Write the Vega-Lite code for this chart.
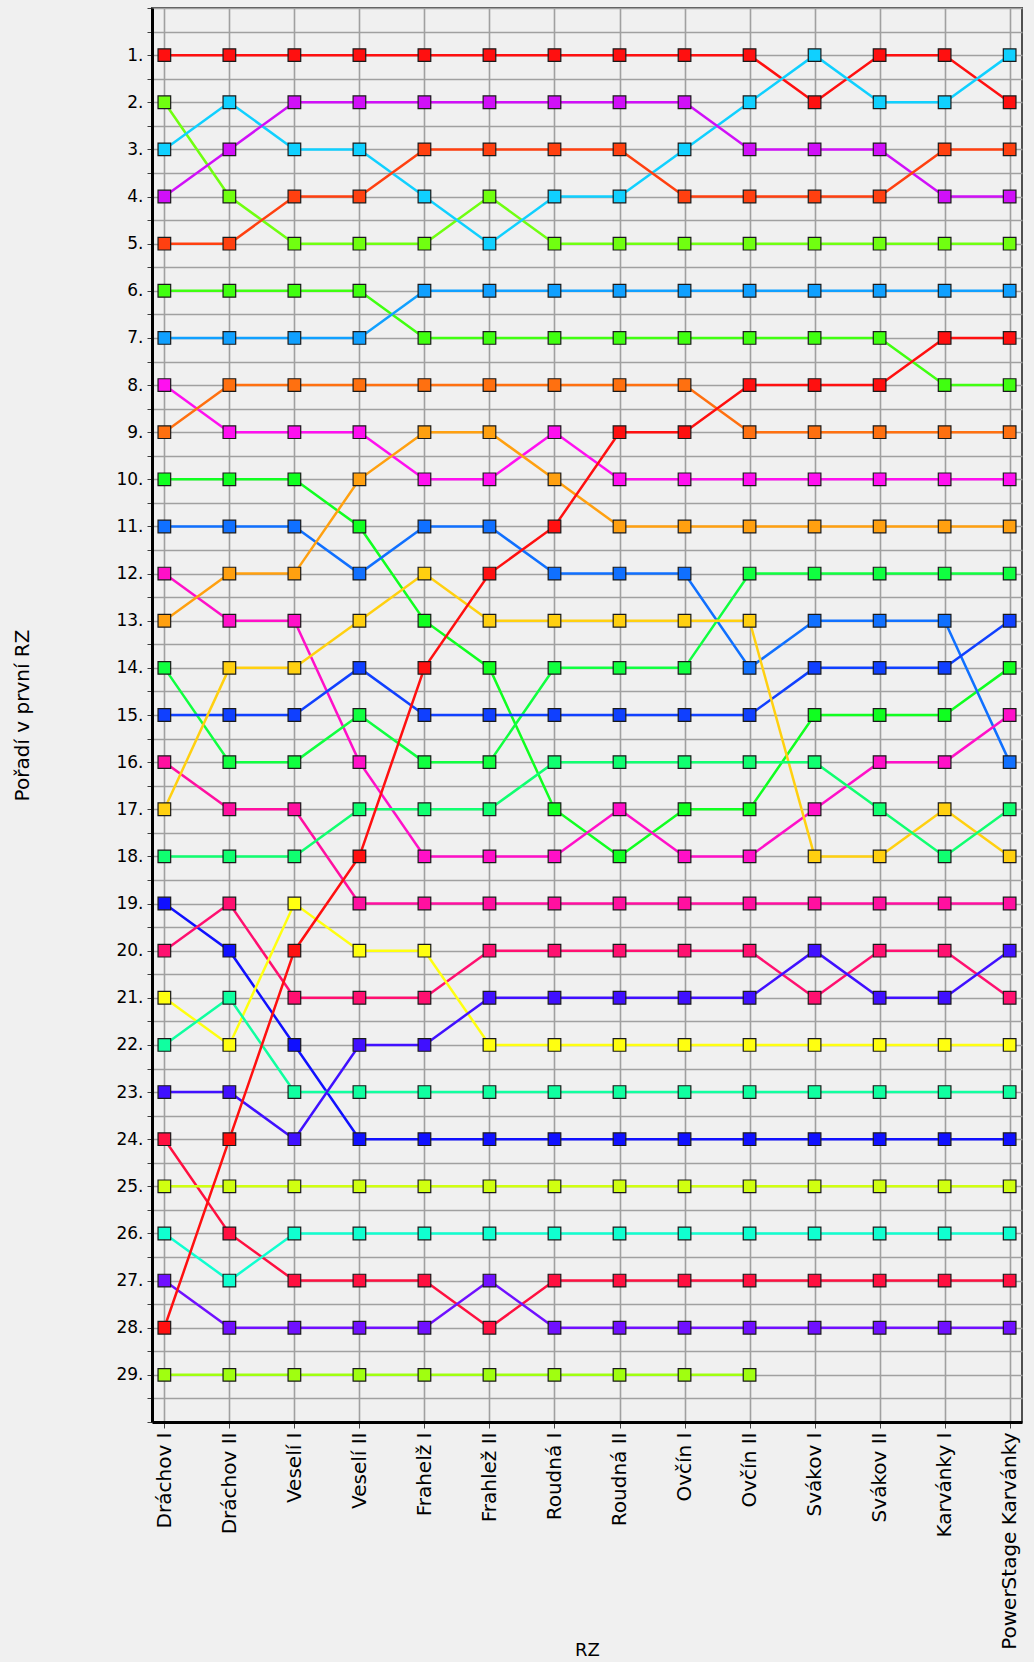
{
  "$schema": "https://vega.github.io/schema/vega-lite/v6.json",
  "width": 870,
  "height": 1414,
  "autosize": "none",
  "padding": {"left": 152, "top": 8, "right": 12, "bottom": 240},
  "background": "#f0f0f0",
  "config": {
    "view": {"stroke": "#505050", "strokeWidth": 2, "fill": "#f0f0f0"},
    "axis": {
      "gridColor": "#a0a0a0", "gridWidth": 1.6, "gridOpacity": 1,
      "domainColor": "#000000", "domainWidth": 3,
      "tickColor": "#404040", "labelColor": "#000000", "titleColor": "#000000",
      "labelFont": "DejaVu Sans", "titleFont": "DejaVu Sans", "titleFontWeight": "normal"
    }
  },
  "data": {
    "values": [
      {"j":"1","Dráchov I":1,"Dráchov II":1,"Veselí I":1,"Veselí II":1,"Frahelž I":1,"Frahlež II":1,"Roudná I":1,"Roudná II":1,"Ovčín I":1,"Ovčín II":1,"Svákov I":2,"Svákov II":1,"Karvánky I":1,"PowerStage Karvánky":2},
      {"j":"2","Dráchov I":2,"Dráchov II":4,"Veselí I":5,"Veselí II":5,"Frahelž I":5,"Frahlež II":4,"Roudná I":5,"Roudná II":5,"Ovčín I":5,"Ovčín II":5,"Svákov I":5,"Svákov II":5,"Karvánky I":5,"PowerStage Karvánky":5},
      {"j":"3","Dráchov I":3,"Dráchov II":2,"Veselí I":3,"Veselí II":3,"Frahelž I":4,"Frahlež II":5,"Roudná I":4,"Roudná II":4,"Ovčín I":3,"Ovčín II":2,"Svákov I":1,"Svákov II":2,"Karvánky I":2,"PowerStage Karvánky":1},
      {"j":"4","Dráchov I":4,"Dráchov II":3,"Veselí I":2,"Veselí II":2,"Frahelž I":2,"Frahlež II":2,"Roudná I":2,"Roudná II":2,"Ovčín I":2,"Ovčín II":3,"Svákov I":3,"Svákov II":3,"Karvánky I":4,"PowerStage Karvánky":4},
      {"j":"5","Dráchov I":5,"Dráchov II":5,"Veselí I":4,"Veselí II":4,"Frahelž I":3,"Frahlež II":3,"Roudná I":3,"Roudná II":3,"Ovčín I":4,"Ovčín II":4,"Svákov I":4,"Svákov II":4,"Karvánky I":3,"PowerStage Karvánky":3},
      {"j":"6","Dráchov I":6,"Dráchov II":6,"Veselí I":6,"Veselí II":6,"Frahelž I":7,"Frahlež II":7,"Roudná I":7,"Roudná II":7,"Ovčín I":7,"Ovčín II":7,"Svákov I":7,"Svákov II":7,"Karvánky I":8,"PowerStage Karvánky":8},
      {"j":"7","Dráchov I":7,"Dráchov II":7,"Veselí I":7,"Veselí II":7,"Frahelž I":6,"Frahlež II":6,"Roudná I":6,"Roudná II":6,"Ovčín I":6,"Ovčín II":6,"Svákov I":6,"Svákov II":6,"Karvánky I":6,"PowerStage Karvánky":6},
      {"j":"8","Dráchov I":8,"Dráchov II":9,"Veselí I":9,"Veselí II":9,"Frahelž I":10,"Frahlež II":10,"Roudná I":9,"Roudná II":10,"Ovčín I":10,"Ovčín II":10,"Svákov I":10,"Svákov II":10,"Karvánky I":10,"PowerStage Karvánky":10},
      {"j":"9","Dráchov I":9,"Dráchov II":8,"Veselí I":8,"Veselí II":8,"Frahelž I":8,"Frahlež II":8,"Roudná I":8,"Roudná II":8,"Ovčín I":8,"Ovčín II":9,"Svákov I":9,"Svákov II":9,"Karvánky I":9,"PowerStage Karvánky":9},
      {"j":"10","Dráchov I":10,"Dráchov II":10,"Veselí I":10,"Veselí II":11,"Frahelž I":13,"Frahlež II":14,"Roudná I":17,"Roudná II":18,"Ovčín I":17,"Ovčín II":17,"Svákov I":15,"Svákov II":15,"Karvánky I":15,"PowerStage Karvánky":14},
      {"j":"11","Dráchov I":11,"Dráchov II":11,"Veselí I":11,"Veselí II":12,"Frahelž I":11,"Frahlež II":11,"Roudná I":12,"Roudná II":12,"Ovčín I":12,"Ovčín II":14,"Svákov I":13,"Svákov II":13,"Karvánky I":13,"PowerStage Karvánky":16},
      {"j":"12","Dráchov I":12,"Dráchov II":13,"Veselí I":13,"Veselí II":16,"Frahelž I":18,"Frahlež II":18,"Roudná I":18,"Roudná II":17,"Ovčín I":18,"Ovčín II":18,"Svákov I":17,"Svákov II":16,"Karvánky I":16,"PowerStage Karvánky":15},
      {"j":"13","Dráchov I":13,"Dráchov II":12,"Veselí I":12,"Veselí II":10,"Frahelž I":9,"Frahlež II":9,"Roudná I":10,"Roudná II":11,"Ovčín I":11,"Ovčín II":11,"Svákov I":11,"Svákov II":11,"Karvánky I":11,"PowerStage Karvánky":11},
      {"j":"14","Dráchov I":14,"Dráchov II":16,"Veselí I":16,"Veselí II":15,"Frahelž I":16,"Frahlež II":16,"Roudná I":14,"Roudná II":14,"Ovčín I":14,"Ovčín II":12,"Svákov I":12,"Svákov II":12,"Karvánky I":12,"PowerStage Karvánky":12},
      {"j":"15","Dráchov I":15,"Dráchov II":15,"Veselí I":15,"Veselí II":14,"Frahelž I":15,"Frahlež II":15,"Roudná I":15,"Roudná II":15,"Ovčín I":15,"Ovčín II":15,"Svákov I":14,"Svákov II":14,"Karvánky I":14,"PowerStage Karvánky":13},
      {"j":"16","Dráchov I":16,"Dráchov II":17,"Veselí I":17,"Veselí II":19,"Frahelž I":19,"Frahlež II":19,"Roudná I":19,"Roudná II":19,"Ovčín I":19,"Ovčín II":19,"Svákov I":19,"Svákov II":19,"Karvánky I":19,"PowerStage Karvánky":19},
      {"j":"17","Dráchov I":17,"Dráchov II":14,"Veselí I":14,"Veselí II":13,"Frahelž I":12,"Frahlež II":13,"Roudná I":13,"Roudná II":13,"Ovčín I":13,"Ovčín II":13,"Svákov I":18,"Svákov II":18,"Karvánky I":17,"PowerStage Karvánky":18},
      {"j":"18","Dráchov I":18,"Dráchov II":18,"Veselí I":18,"Veselí II":17,"Frahelž I":17,"Frahlež II":17,"Roudná I":16,"Roudná II":16,"Ovčín I":16,"Ovčín II":16,"Svákov I":16,"Svákov II":17,"Karvánky I":18,"PowerStage Karvánky":17},
      {"j":"19","Dráchov I":19,"Dráchov II":20,"Veselí I":22,"Veselí II":24,"Frahelž I":24,"Frahlež II":24,"Roudná I":24,"Roudná II":24,"Ovčín I":24,"Ovčín II":24,"Svákov I":24,"Svákov II":24,"Karvánky I":24,"PowerStage Karvánky":24},
      {"j":"20","Dráchov I":20,"Dráchov II":19,"Veselí I":21,"Veselí II":21,"Frahelž I":21,"Frahlež II":20,"Roudná I":20,"Roudná II":20,"Ovčín I":20,"Ovčín II":20,"Svákov I":21,"Svákov II":20,"Karvánky I":20,"PowerStage Karvánky":21},
      {"j":"21","Dráchov I":21,"Dráchov II":22,"Veselí I":19,"Veselí II":20,"Frahelž I":20,"Frahlež II":22,"Roudná I":22,"Roudná II":22,"Ovčín I":22,"Ovčín II":22,"Svákov I":22,"Svákov II":22,"Karvánky I":22,"PowerStage Karvánky":22},
      {"j":"22","Dráchov I":22,"Dráchov II":21,"Veselí I":23,"Veselí II":23,"Frahelž I":23,"Frahlež II":23,"Roudná I":23,"Roudná II":23,"Ovčín I":23,"Ovčín II":23,"Svákov I":23,"Svákov II":23,"Karvánky I":23,"PowerStage Karvánky":23},
      {"j":"23","Dráchov I":23,"Dráchov II":23,"Veselí I":24,"Veselí II":22,"Frahelž I":22,"Frahlež II":21,"Roudná I":21,"Roudná II":21,"Ovčín I":21,"Ovčín II":21,"Svákov I":20,"Svákov II":21,"Karvánky I":21,"PowerStage Karvánky":20},
      {"j":"24","Dráchov I":24,"Dráchov II":26,"Veselí I":27,"Veselí II":27,"Frahelž I":27,"Frahlež II":28,"Roudná I":27,"Roudná II":27,"Ovčín I":27,"Ovčín II":27,"Svákov I":27,"Svákov II":27,"Karvánky I":27,"PowerStage Karvánky":27},
      {"j":"25","Dráchov I":25,"Dráchov II":25,"Veselí I":25,"Veselí II":25,"Frahelž I":25,"Frahlež II":25,"Roudná I":25,"Roudná II":25,"Ovčín I":25,"Ovčín II":25,"Svákov I":25,"Svákov II":25,"Karvánky I":25,"PowerStage Karvánky":25},
      {"j":"26","Dráchov I":26,"Dráchov II":27,"Veselí I":26,"Veselí II":26,"Frahelž I":26,"Frahlež II":26,"Roudná I":26,"Roudná II":26,"Ovčín I":26,"Ovčín II":26,"Svákov I":26,"Svákov II":26,"Karvánky I":26,"PowerStage Karvánky":26},
      {"j":"27","Dráchov I":27,"Dráchov II":28,"Veselí I":28,"Veselí II":28,"Frahelž I":28,"Frahlež II":27,"Roudná I":28,"Roudná II":28,"Ovčín I":28,"Ovčín II":28,"Svákov I":28,"Svákov II":28,"Karvánky I":28,"PowerStage Karvánky":28},
      {"j":"28","Dráchov I":28,"Dráchov II":24,"Veselí I":20,"Veselí II":18,"Frahelž I":14,"Frahlež II":12,"Roudná I":11,"Roudná II":9,"Ovčín I":9,"Ovčín II":8,"Svákov I":8,"Svákov II":8,"Karvánky I":7,"PowerStage Karvánky":7},
      {"j":"29","Dráchov I":29,"Dráchov II":29,"Veselí I":29,"Veselí II":29,"Frahelž I":29,"Frahlež II":29,"Roudná I":29,"Roudná II":29,"Ovčín I":29,"Ovčín II":29}
    ]
  },
  "transform": [
    {"fold": ["Dráchov I","Dráchov II","Veselí I","Veselí II","Frahelž I","Frahlež II","Roudná I","Roudná II","Ovčín I","Ovčín II","Svákov I","Svákov II","Karvánky I","PowerStage Karvánky"], "as": ["RZ","poradi"]},
    {"filter": "isValid(datum.poradi)"}
  ],
  "encoding": {
    "x": {
      "field": "RZ", "type": "nominal",
      "sort": ["Dráchov I","Dráchov II","Veselí I","Veselí II","Frahelž I","Frahlež II","Roudná I","Roudná II","Ovčín I","Ovčín II","Svákov I","Svákov II","Karvánky I","PowerStage Karvánky"],
      "scale": {"type": "point", "padding": 0.19},
      "axis": {
        "title": "RZ", "titleFontSize": 18, "titleX": 435, "titleY": 228, "titleBaseline": "middle", "titleAlign": "center",
        "labelAngle": 270, "labelFontSize": 20, "labelPadding": 4, "labelLimit": 400, "tickSize": 6, "grid": true, "labelOverlap": false
      }
    },
    "y": {
      "field": "poradi", "type": "quantitative",
      "scale": {"domain": [0, 30], "reverse": true, "nice": false, "zero": false},
      "axis": {
        "title": "Pořadí v první RZ", "titleFontSize": 20, "titleX": -130, "titleY": 707, "titleAngle": 270, "titleBaseline": "middle", "titleAlign": "center",
        "values": [0,0.5,1,1.5,2,2.5,3,3.5,4,4.5,5,5.5,6,6.5,7,7.5,8,8.5,9,9.5,10,10.5,11,11.5,12,12.5,13,13.5,14,14.5,15,15.5,16,16.5,17,17.5,18,18.5,19,19.5,20,20.5,21,21.5,22,22.5,23,23.5,24,24.5,25,25.5,26,26.5,27,27.5,28,28.5,29,29.5,30],
        "labelExpr": "datum.value >= 1 && datum.value <= 29 && datum.value % 1 == 0 ? datum.value + '.' : ''",
        "labelFontSize": 17, "labelPadding": 4, "tickSize": 5, "grid": true
      }
    },
    "color": {
      "field": "j", "type": "nominal", "legend": null,
      "scale": {
        "domain": ["1","2","3","4","5","6","7","8","9","10","11","12","13","14","15","16","17","18","19","20","21","22","23","24","25","26","27","28","29"],
        "range": ["#ff1010","#70ff10","#10d0ff","#d010f8","#ff4010","#40ff10","#10a0ff","#ff10f0","#ff7010","#10ff20","#1070ff","#ff10c8","#ffa010","#10ff40","#1040ff","#ff10a0","#ffd010","#10ff70","#1010ff","#ff1070","#ffff10","#10ffa0","#4010ff","#ff1040","#d0ff10","#10ffd0","#7010ff","#ff1010","#a0ff10"]
      }
    }
  },
  "layer": [
    {"mark": {"type": "line", "strokeWidth": 2.5}},
    {"mark": {"type": "point", "shape": "square", "filled": true, "size": 160, "opacity": 1, "stroke": "#1a1a1a", "strokeWidth": 1.2}}
  ]
}
